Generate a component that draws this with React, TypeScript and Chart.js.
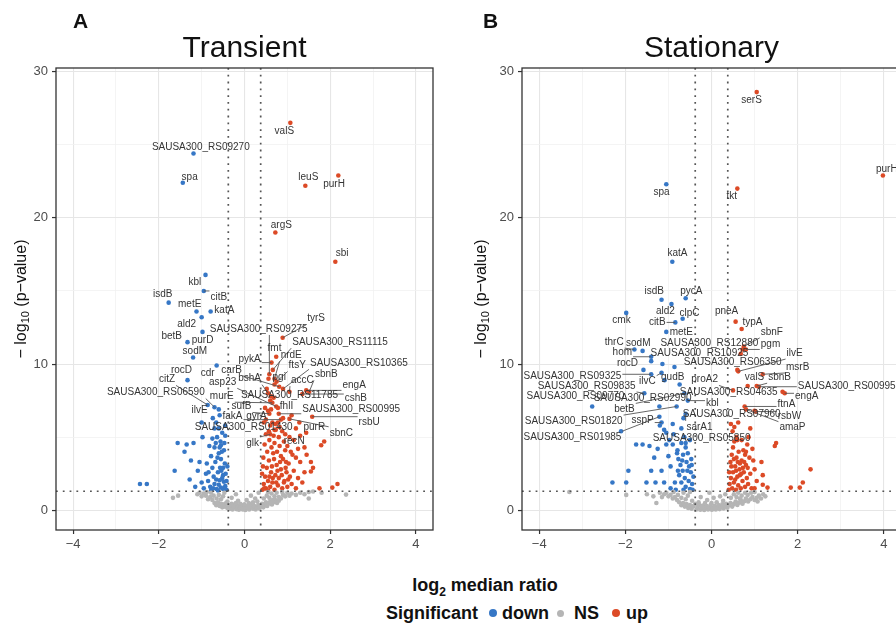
import React, { useEffect, useRef } from 'react';
import { Chart, registerables } from 'chart.js';

Chart.register(...registerables);

type Pt = [number, number];
type Lab = { gene: string; x: number; y: number; lx: number; ly: number };

const FONT = '"Liberation Sans", Arial, Helvetica, sans-serif';
const COLORS = { down: '#3677c6', ns: '#b5b5b5', up: '#dc4a26' };

const xLabeledTicks = [-4, -2, 0, 2, 4];
const yLabeledTicks = [0, 10, 20, 30];
const xRange: Pt = [-4.4, 4.4];
const yRange: Pt = [-1.35, 30.25];
const foldThreshold = 0.378;
const pThreshold = 1.301;

const legendItems = [
  { key: 'down', label: 'down' },
  { key: 'ns', label: 'NS' },
  { key: 'up', label: 'up' },
];

// ---------- Transient ----------
const transientDown: Pt[] = [
  [-0.42, 1.4], [-0.45, 1.65], [-0.5, 1.45], [-0.48, 1.95], [-0.55, 1.55], [-0.6, 1.75], [-0.52, 2.2],
  [-0.44, 2.5], [-0.58, 2.05], [-0.65, 1.45], [-0.7, 1.8], [-0.62, 2.6], [-0.5, 2.9], [-0.46, 3.2],
  [-0.72, 2.3], [-0.8, 1.6], [-0.85, 2.0], [-0.75, 2.9], [-0.55, 3.5], [-0.68, 3.3], [-0.6, 3.9],
  [-0.48, 4.1], [-0.78, 3.7], [-0.9, 2.5], [-0.95, 1.5], [-1.0, 1.9], [-0.7, 4.3], [-0.56, 4.7],
  [-0.64, 5.0], [-0.52, 5.3], [-0.75, 4.9], [-0.82, 4.4], [-0.45, 5.8], [-0.6, 5.6], [-0.7, 5.6],
  [-0.66, 6.0], [-0.58, 6.5], [-1.0, 6.0], [-0.98, 5.0], [-1.19, 4.6], [-1.56, 4.6], [-1.4, 4.0],
  [-1.35, 4.5], [-1.63, 2.7], [-1.09, 2.7], [-1.28, 2.1], [-1.15, 1.6], [-2.44, 1.8], [-2.28, 1.8],
  [-0.88, 3.2], [-0.62, 1.35], [-0.42, 2.0], [-0.4, 3.0], [-0.66, 2.1], [-0.54, 2.7], [-0.47, 4.6],
  [-0.78, 1.35], [-1.25, 3.4], [-0.58, 4.3], [-0.63, 3.6], [-0.53, 4.0], [-0.67, 4.6], [-0.5, 2.4],
  [-0.57, 2.9], [-0.73, 1.5], [-0.84, 2.6], [-1.05, 3.3], [-0.45, 5.1], [-0.6, 6.9], [-0.55, 4.45],
];

const transientNS: Pt[] = [
  [-0.7, 0.5], [-0.66, 0.35], [-0.62, 0.55], [-0.58, 0.3], [-0.55, 0.45], [-0.52, 0.2], [-0.5, 0.4],
  [-0.46, 0.25], [-0.43, 0.5], [-0.4, 0.15], [-0.37, 0.35], [-0.34, 0.1], [-0.31, 0.3], [-0.28, 0.05],
  [-0.25, 0.22], [-0.22, 0.4], [-0.19, 0.08], [-0.16, 0.28], [-0.13, 0.03], [-0.1, 0.18], [-0.07, 0.35],
  [-0.04, 0.06], [-0.01, 0.2], [0.02, 0.02], [0.05, 0.15], [0.08, 0.3], [0.11, 0.05], [0.14, 0.22],
  [0.17, 0.4], [0.2, 0.1], [0.23, 0.28], [0.26, 0.05], [0.29, 0.18], [0.32, 0.35], [0.35, 0.12],
  [0.38, 0.28], [0.41, 0.45], [0.44, 0.2], [0.47, 0.35], [0.5, 0.55], [0.53, 0.3], [0.56, 0.45],
  [0.6, 0.6], [0.64, 0.4], [0.68, 0.55], [0.72, 0.7], [0.76, 0.5], [0.8, 0.65],
  [-0.3, 0.45], [-0.2, 0.5], [-0.1, 0.45], [0, 0.4], [0.1, 0.5], [0.2, 0.55], [0.3, 0.6], [-0.4, 0.6],
  [-0.15, 0.65], [0.05, 0.7], [0.25, 0.8], [-0.3, 0.85], [0.15, 1.0], [-0.2, 1.1], [0.33, 1.2],
  [-0.75, 0.7], [-0.8, 0.9], [-0.85, 0.75], [-0.9, 1.0], [-0.95, 1.15], [-1.0, 0.95], [-1.05, 1.2],
  [-1.1, 1.1], [-0.72, 1.0], [-0.78, 1.2], [-0.65, 0.8], [-0.6, 1.05], [-0.55, 0.75], [-0.5, 0.95],
  [-0.47, 1.2], [-0.88, 1.25], [0.45, 0.8], [0.52, 1.0], [0.58, 0.85], [0.63, 1.15], [0.7, 0.95],
  [0.75, 1.2], [0.8, 0.9], [0.85, 0.8], [0.9, 1.05], [0.95, 0.95], [1.0, 1.2], [1.05, 1.0], [1.1, 1.15],
  [1.2, 1.05], [1.3, 1.2], [1.4, 1.1], [1.5, 1.25], [0.88, 1.25], [0.66, 0.7], [0.55, 1.25],
  [-1.67, 0.85], [-1.55, 1.0], [2.37, 1.07], [1.8, 1.2], [1.6, 1.28], [1.5, 0.8],
];

const transientUp: Pt[] = [
  [0.42, 1.4], [0.45, 1.8], [0.48, 2.3], [0.5, 1.5], [0.52, 2.9], [0.55, 2.0], [0.57, 3.4], [0.6, 1.6],
  [0.62, 2.6], [0.65, 1.9], [0.67, 3.9], [0.7, 1.4], [0.72, 2.4], [0.75, 3.1], [0.78, 1.7], [0.8, 2.2],
  [0.82, 4.4], [0.85, 2.8], [0.88, 1.5], [0.9, 3.5], [0.93, 2.0], [0.95, 4.1], [0.98, 2.6], [1.0, 1.6],
  [1.03, 3.2], [1.06, 2.3], [1.1, 1.8], [1.12, 3.8], [1.15, 2.7], [1.2, 1.5], [1.25, 2.2], [1.3, 3.3],
  [1.35, 1.9], [1.4, 2.6], [1.55, 3.3], [1.55, 2.65], [1.75, 1.5], [1.86, 4.7], [1.79, 4.45],
  [2.05, 1.55], [2.17, 1.8], [0.44, 3.6], [0.47, 4.5], [0.5, 5.2], [0.53, 4.0], [0.58, 4.8],
  [0.6, 5.8], [0.63, 4.3], [0.68, 5.1], [0.7, 4.6], [0.73, 5.5], [0.76, 4.0], [0.8, 5.0], [0.85, 3.7],
  [0.88, 5.4], [0.92, 4.7], [0.97, 3.3], [1.0, 4.4], [1.05, 5.0], [1.08, 4.0], [1.15, 4.8], [1.2, 3.6],
  [1.25, 4.2], [1.3, 5.1], [1.4, 4.3], [1.45, 3.8], [1.6, 2.9], [0.41, 2.5], [0.43, 3.0], [0.46, 1.5],
  [0.55, 1.35], [0.58, 2.3], [0.64, 3.0], [0.66, 2.2], [0.69, 3.5], [0.74, 1.9], [0.77, 2.7],
  [0.83, 3.3], [0.87, 2.4], [0.92, 1.9], [0.96, 2.9], [1.02, 2.1], [0.5, 6.2], [0.55, 6.8],
  [0.6, 7.5], [0.45, 6.0], [0.65, 6.0], [0.62, 7.8], [0.52, 8.3], [0.7, 5.5], [0.9, 6.3], [1.1, 6.5],
  [1.2, 5.6], [0.78, 6.0], [0.48, 7.0], [0.56, 9.0], [1.44, 5.3], [0.82, 5.7], [0.57, 5.4],
];

const transientLabels: Lab[] = [
  { gene: 'SAUSA300_RS09270', x: -1.19, y: 24.4, lx: -1.02, ly: 24.85 },
  { gene: 'spa', x: -1.44, y: 22.4, lx: -1.28, ly: 22.8 },
  { gene: 'valS', x: 1.07, y: 26.5, lx: 0.93, ly: 25.9 },
  { gene: 'leuS', x: 1.42, y: 22.2, lx: 1.49, ly: 22.8 },
  { gene: 'purH', x: 2.19, y: 22.9, lx: 2.09, ly: 22.3 },
  { gene: 'argS', x: 0.72, y: 19.0, lx: 0.86, ly: 19.5 },
  { gene: 'sbi', x: 2.12, y: 17.0, lx: 2.28, ly: 17.6 },
  { gene: 'kbl', x: -0.91, y: 16.1, lx: -1.16, ly: 15.6 },
  { gene: 'isdB', x: -1.77, y: 14.2, lx: -1.91, ly: 14.8 },
  { gene: 'citB', x: -0.95, y: 15.0, lx: -0.6, ly: 14.6 },
  { gene: 'metE', x: -1.12, y: 13.6, lx: -1.28, ly: 14.1 },
  { gene: 'katA', x: -0.79, y: 13.6, lx: -0.47, ly: 13.7 },
  { gene: 'ald2', x: -1.0, y: 13.2, lx: -1.35, ly: 12.7 },
  { gene: 'betB', x: -1.33, y: 11.5, lx: -1.7, ly: 11.9 },
  { gene: 'purD', x: -0.98, y: 12.2, lx: -0.98, ly: 11.65 },
  { gene: 'sodM', x: -1.2, y: 10.45, lx: -1.16, ly: 10.9 },
  { gene: 'cdr', x: -0.65, y: 9.9, lx: -0.86, ly: 9.4 },
  { gene: 'rocD', x: -1.33, y: 8.9, lx: -1.47, ly: 9.55 },
  { gene: 'citZ', x: -0.86, y: 7.2, lx: -1.81, ly: 8.95 },
  { gene: 'SAUSA300_RS06590', x: -0.7, y: 7.05, lx: -2.07, ly: 8.05 },
  { gene: 'ilvE', x: -0.74, y: 6.3, lx: -1.05, ly: 6.85 },
  { gene: 'carB', x: 0.81, y: 8.45, lx: -0.3, ly: 9.6 },
  { gene: 'asp23', x: 0.74, y: 7.1, lx: -0.51, ly: 8.75 },
  { gene: 'murE', x: 0.65, y: 7.35, lx: -0.53, ly: 7.8 },
  { gene: 'sufB', x: 0.58, y: 6.6, lx: -0.07, ly: 7.1 },
  { gene: 'fakA', x: 0.85, y: 6.2, lx: -0.28, ly: 6.4 },
  { gene: 'SAUSA300_RS01430', x: 0.72, y: 5.9, lx: -0.02, ly: 5.65 },
  { gene: 'glk', x: 0.6, y: 5.2, lx: 0.19, ly: 4.6 },
  { gene: 'gyrA', x: 0.62, y: 6.9, lx: 0.28, ly: 6.4 },
  { gene: 'pykA', x: 0.63, y: 10.1, lx: 0.12, ly: 10.3 },
  { gene: 'fmt', x: 0.74, y: 10.5, lx: 0.7, ly: 11.1 },
  { gene: 'SAUSA300_RS09275', x: 0.58, y: 9.3, lx: 0.33, ly: 12.4 },
  { gene: 'tyrS', x: 0.89, y: 11.8, lx: 1.67, ly: 13.1 },
  { gene: 'SAUSA300_RS11115', x: 0.66, y: 9.6, lx: 2.23, ly: 11.5 },
  { gene: 'nrdE', x: 0.7, y: 9.0, lx: 1.09, ly: 10.6 },
  { gene: 'ftsY', x: 0.75, y: 8.8, lx: 1.23, ly: 9.9 },
  { gene: 'SAUSA300_RS10365', x: 0.9, y: 8.3, lx: 2.67, ly: 10.05 },
  { gene: 'sbnB', x: 1.51, y: 8.1, lx: 1.91, ly: 9.3 },
  { gene: 'bshA', x: 0.55, y: 8.0, lx: 0.12, ly: 9.0 },
  { gene: 'pgi', x: 0.7, y: 8.6, lx: 0.81, ly: 9.1 },
  { gene: 'accC', x: 1.05, y: 8.1, lx: 1.35, ly: 8.9 },
  { gene: 'engA', x: 1.44, y: 8.2, lx: 2.56, ly: 8.55 },
  { gene: 'SAUSA300_RS11785', x: 0.68, y: 7.7, lx: 1.05, ly: 7.85 },
  { gene: 'cshB', x: 1.35, y: 7.95, lx: 2.6, ly: 7.65 },
  { gene: 'fhlI', x: 0.78, y: 7.0, lx: 0.98, ly: 7.1 },
  { gene: 'SAUSA300_RS00995', x: 0.8, y: 6.6, lx: 2.49, ly: 6.9 },
  { gene: 'rsbU', x: 1.58, y: 6.4, lx: 2.91, ly: 6.0 },
  { gene: 'purR', x: 1.28, y: 6.0, lx: 1.63, ly: 5.7 },
  { gene: 'sbnC', x: 1.05, y: 6.25, lx: 2.26, ly: 5.3 },
  { gene: 'recN', x: 0.95, y: 5.2, lx: 1.16, ly: 4.7 },
];

// ---------- Stationary ----------
const stationaryDown: Pt[] = [
  [-2.1, 5.4], [-2.3, 1.9], [-1.98, 1.9], [-1.93, 2.7], [-1.75, 4.5], [-1.6, 4.5], [-1.51, 1.9],
  [-1.44, 4.4], [-1.33, 3.6], [-1.16, 2.7], [-1.05, 4.5], [-1.0, 3.7], [-0.9, 4.5], [-0.78, 2.7],
  [-0.77, 3.5], [-0.67, 2.7], [-0.56, 2.7], [-1.3, 1.9], [-1.1, 1.9], [-0.95, 1.5], [-0.85, 1.9],
  [-0.7, 1.9], [-0.6, 1.6], [-0.5, 1.45], [-0.45, 1.8], [-0.42, 2.3], [-0.48, 2.6], [-0.52, 3.0],
  [-0.58, 3.3], [-0.62, 2.2], [-0.66, 3.8], [-0.72, 3.1], [-0.75, 2.4], [-0.8, 3.9], [-0.55, 3.9],
  [-0.47, 3.5], [-0.6, 4.3], [-0.7, 4.6], [-0.5, 4.8], [-0.88, 5.2], [-1.4, 2.7], [-0.83, 1.4],
  [-0.65, 1.4], [-0.44, 1.4], [-1.4, 10.2], [-1.14, 10.0], [-1.09, 8.9], [-1.05, 5.3], [-0.79, 4.1],
  [-0.86, 9.8], [-1.2, 5.8], [-1.1, 5.5], [-0.98, 4.8], [-0.9, 5.9], [-0.7, 5.6], [-0.65, 6.3],
  [-0.6, 4.6], [-1.25, 4.2], [-0.95, 3.0], [-0.53, 2.0], [-0.46, 3.1], [-0.68, 3.4],
];

const stationaryNS: Pt[] = [
  [-0.75, 0.55], [-0.7, 0.35], [-0.66, 0.5], [-0.62, 0.25], [-0.58, 0.42], [-0.54, 0.15], [-0.5, 0.35],
  [-0.46, 0.1], [-0.42, 0.28], [-0.38, 0.45], [-0.35, 0.06], [-0.32, 0.22], [-0.29, 0.38], [-0.26, 0.04],
  [-0.23, 0.18], [-0.2, 0.32], [-0.17, 0.02], [-0.14, 0.14], [-0.11, 0.28], [-0.08, 0.05], [-0.05, 0.2],
  [-0.02, 0.36], [0.01, 0.03], [0.04, 0.16], [0.07, 0.3], [0.1, 0.06], [0.13, 0.2], [0.16, 0.36],
  [0.19, 0.08], [0.22, 0.24], [0.25, 0.4], [0.28, 0.12], [0.31, 0.28], [0.34, 0.45], [0.37, 0.18],
  [0.4, 0.34], [0.44, 0.5], [0.48, 0.25], [0.52, 0.42], [0.56, 0.6], [0.6, 0.36], [0.64, 0.52],
  [0.68, 0.7], [0.72, 0.45], [0.76, 0.62], [0.8, 0.8], [0.85, 0.6], [0.9, 0.75], [0.95, 0.9],
  [1.0, 0.7], [1.05, 0.85], [1.1, 1.0], [1.15, 0.8], [1.2, 1.1],
  [-0.3, 0.55], [-0.15, 0.5], [0, 0.5], [0.12, 0.55], [0.27, 0.65], [-0.45, 0.65], [-0.1, 0.7],
  [0.05, 0.85], [0.2, 0.95], [-0.25, 0.9], [0.32, 1.1], [-0.05, 1.2],
  [-0.8, 0.7], [-0.85, 0.9], [-0.9, 0.8], [-0.95, 1.05], [-1.0, 0.95], [-1.05, 1.2], [-1.1, 1.1],
  [-1.15, 0.9], [-1.2, 1.2], [-0.78, 1.05], [-0.7, 0.85], [-0.65, 1.2], [-0.6, 0.75], [-0.55, 1.0],
  [-0.5, 1.25], [-0.88, 1.25], [0.45, 0.85], [0.52, 1.1], [0.58, 0.9], [0.62, 1.2], [0.7, 1.0],
  [0.78, 1.2], [0.84, 1.05], [0.92, 1.2], [1.0, 1.25], [0.66, 0.8],
  [-3.3, 1.25], [-1.98, 1.05], [-1.28, 0.5], [-1.5, 1.1], [-1.35, 0.95], [1.07, 0.6], [1.25, 0.95],
];

const stationaryUp: Pt[] = [
  [0.4, 1.4], [0.42, 1.8], [0.45, 2.2], [0.48, 1.5], [0.5, 2.6], [0.52, 1.9], [0.55, 3.0], [0.57, 1.4],
  [0.6, 2.3], [0.62, 1.7], [0.65, 2.8], [0.68, 1.5], [0.7, 3.4], [0.72, 2.0], [0.75, 2.6], [0.78, 1.6],
  [0.8, 3.1], [0.82, 2.2], [0.85, 1.8], [0.88, 3.6], [0.9, 2.5], [0.93, 1.5], [0.95, 4.2], [0.44, 3.3],
  [0.47, 3.8], [0.5, 4.3], [0.53, 4.7], [0.58, 3.6], [0.63, 4.0], [0.66, 3.2], [0.7, 4.8], [0.74, 4.1],
  [0.78, 3.8], [0.83, 4.5], [0.86, 5.0], [0.9, 5.6], [0.58, 5.0], [0.49, 5.4], [0.45, 5.9], [0.6, 4.8],
  [0.8, 4.0], [0.53, 5.7], [0.62, 6.0], [0.55, 2.1], [0.66, 2.4], [0.73, 2.9], [0.41, 2.6], [0.46, 3.0],
  [0.52, 3.5], [0.57, 2.7], [0.61, 3.3], [0.69, 2.5], [0.76, 3.3], [0.84, 2.9], [1.47, 4.4], [1.5, 4.6],
  [2.3, 2.8], [2.12, 1.9], [2.05, 1.55], [1.84, 1.55], [1.16, 3.3], [1.19, 2.4], [1.19, 1.75],
  [1.3, 1.55], [1.05, 2.0], [1.0, 2.8], [1.0, 1.5], [0.97, 3.4],
];

const stationaryLabels: Lab[] = [
  { gene: 'serS', x: 1.05, y: 28.6, lx: 0.93, ly: 28.05 },
  { gene: 'purH', x: 3.98, y: 22.9, lx: 4.07, ly: 23.35 },
  { gene: 'spa', x: -1.05, y: 22.3, lx: -1.16, ly: 21.75 },
  { gene: 'tkt', x: 0.6, y: 22.0, lx: 0.47, ly: 21.5 },
  { gene: 'katA', x: -0.91, y: 17.0, lx: -0.79, ly: 17.55 },
  { gene: 'isdB', x: -1.16, y: 14.4, lx: -1.33, ly: 15.0 },
  { gene: 'pycA', x: -0.6, y: 14.5, lx: -0.47, ly: 14.95 },
  { gene: 'ald2', x: -0.93, y: 14.1, lx: -1.07, ly: 13.6 },
  { gene: 'clpC', x: -0.67, y: 13.1, lx: -0.51, ly: 13.5 },
  { gene: 'cmk', x: -1.98, y: 13.5, lx: -2.09, ly: 13.0 },
  { gene: 'citB', x: -0.84, y: 12.85, lx: -1.26, ly: 12.85 },
  { gene: 'metE', x: -1.05, y: 12.2, lx: -0.7, ly: 12.2 },
  { gene: 'thrC', x: -1.79, y: 11.0, lx: -2.26, ly: 11.5 },
  { gene: 'sodM', x: -1.6, y: 10.9, lx: -1.7, ly: 11.45 },
  { gene: 'hom', x: -1.4, y: 10.5, lx: -2.07, ly: 10.8 },
  { gene: 'rocD', x: -1.58, y: 9.6, lx: -1.95, ly: 10.05 },
  { gene: 'SAUSA300_RS09325', x: -1.4, y: 9.3, lx: -3.23, ly: 9.2 },
  { gene: 'SAUSA300_RS09835', x: -1.56, y: 8.0, lx: -2.9, ly: 8.5 },
  { gene: 'ilvC', x: -1.16, y: 9.4, lx: -1.49, ly: 8.8 },
  { gene: 'gudB', x: -0.74, y: 8.6, lx: -0.9, ly: 9.1 },
  { gene: 'SAUSA300_RS09770', x: -2.77, y: 7.1, lx: -3.16, ly: 7.8 },
  { gene: 'SAUSA300_RS02990', x: -1.21, y: 7.1, lx: -1.6, ly: 7.65 },
  { gene: 'betB', x: -0.63, y: 8.0, lx: -2.02, ly: 6.9 },
  { gene: 'SAUSA300_RS01820', x: -0.81, y: 7.1, lx: -3.2, ly: 6.1 },
  { gene: 'sspP', x: -1.16, y: 6.0, lx: -1.6, ly: 6.15 },
  { gene: 'SAUSA300_RS01985', x: -1.21, y: 6.4, lx: -3.23, ly: 5.0 },
  { gene: 'kbl', x: -0.55, y: 7.5, lx: 0.02, ly: 7.3 },
  { gene: 'sarA1', x: -0.6, y: 6.6, lx: -0.28, ly: 5.7 },
  { gene: 'SAUSA300_RS05850', x: -0.63, y: 5.0, lx: -0.23, ly: 4.9 },
  { gene: 'SAUSA300_RS12880', x: 0.72, y: 11.0, lx: -0.05, ly: 11.45 },
  { gene: 'SAUSA300_RS10925', x: 0.68, y: 10.7, lx: -0.28, ly: 10.75 },
  { gene: 'SAUSA300_RS06350', x: 0.6, y: 9.6, lx: 0.49, ly: 10.1 },
  { gene: 'proA2', x: 0.5, y: 8.2, lx: -0.16, ly: 8.95 },
  { gene: 'pneA', x: 0.56, y: 12.9, lx: 0.35, ly: 13.6 },
  { gene: 'typA', x: 0.7, y: 12.4, lx: 0.95, ly: 12.85 },
  { gene: 'sbnF', x: 0.75, y: 11.2, lx: 1.4, ly: 12.2 },
  { gene: 'pgm', x: 0.8, y: 11.0, lx: 1.37, ly: 11.35 },
  { gene: 'ilvE', x: 0.62, y: 9.5, lx: 1.93, ly: 10.75 },
  { gene: 'msrB', x: 1.19, y: 9.3, lx: 2.0, ly: 9.8 },
  { gene: 'valS', x: 0.84, y: 8.5, lx: 1.0, ly: 9.1 },
  { gene: 'sbnB', x: 1.05, y: 8.5, lx: 1.58, ly: 9.1 },
  { gene: 'SAUSA300_RS00995', x: 1.1, y: 8.45, lx: 3.14, ly: 8.45 },
  { gene: 'SAUSA300_RS04635', x: 1.65, y: 8.1, lx: 0.4, ly: 8.05 },
  { gene: 'engA', x: 1.7, y: 8.0, lx: 2.21, ly: 7.8 },
  { gene: 'ftnA', x: 0.77, y: 7.1, lx: 1.74, ly: 7.25 },
  { gene: 'SAUSA300_RS07960', x: 1.0, y: 6.8, lx: 0.47, ly: 6.55 },
  { gene: 'rsbW', x: 1.02, y: 6.75, lx: 1.81, ly: 6.4 },
  { gene: 'amaP', x: 0.8, y: 6.9, lx: 1.88, ly: 5.65 },
];

const fmtTick = (v: number) => (v < 0 ? '\u2212' + Math.abs(v) : String(v));

function makeDecor(title: string, letter: string, letterX: number, labels: Lab[]) {
  return {
    id: 'decor',
    afterDatasetsDraw(chart: any) {
      const { ctx, chartArea: a } = chart;
      const xs = chart.scales.x;
      const ys = chart.scales.y;
      ctx.save();
      // threshold lines
      ctx.strokeStyle = '#555555';
      ctx.lineWidth = 1.7;
      ctx.setLineDash([1.8, 5]);
      for (const v of [-foldThreshold, foldThreshold]) {
        const px = xs.getPixelForValue(v);
        ctx.beginPath();
        ctx.moveTo(px, a.top);
        ctx.lineTo(px, a.bottom);
        ctx.stroke();
      }
      const hy = ys.getPixelForValue(pThreshold);
      ctx.beginPath();
      ctx.moveTo(a.left, hy);
      ctx.lineTo(a.right, hy);
      ctx.stroke();
      ctx.setLineDash([]);

      // repel-style labels
      ctx.font = `10px ${FONT}`;
      const items = labels.map((l) => {
        const px = xs.getPixelForValue(l.x);
        const py = ys.getPixelForValue(l.y);
        const lx = xs.getPixelForValue(l.lx);
        const ly = ys.getPixelForValue(l.ly);
        const w = ctx.measureText(l.gene).width;
        return { l, px, py, lx, ly, w };
      });
      ctx.strokeStyle = '#555555';
      ctx.lineWidth = 0.9;
      for (const it of items) {
        const bx = Math.min(Math.max(it.px, it.lx - it.w / 2 - 1), it.lx + it.w / 2 + 1);
        const by = Math.min(Math.max(it.py, it.ly - 6), it.ly + 6);
        const d = Math.hypot(it.px - bx, it.py - by);
        if (d > 5) {
          ctx.beginPath();
          ctx.moveTo(it.px, it.py);
          ctx.lineTo(bx, by);
          ctx.stroke();
        }
      }
      ctx.fillStyle = '#353535';
      ctx.textAlign = 'center';
      ctx.textBaseline = 'middle';
      for (const it of items) ctx.fillText(it.l.gene, it.lx, it.ly);

      // panel border
      ctx.strokeStyle = '#333333';
      ctx.lineWidth = 1.3;
      ctx.strokeRect(a.left, a.top, a.right - a.left, a.bottom - a.top);
      ctx.restore();
    },
    afterDraw(chart: any) {
      const { ctx, chartArea: a } = chart;
      ctx.save();
      ctx.fillStyle = '#111111';
      ctx.textAlign = 'center';
      ctx.textBaseline = 'alphabetic';
      ctx.font = `30px ${FONT}`;
      ctx.fillText(title, (a.left + a.right) / 2, 57);
      ctx.textAlign = 'left';
      ctx.font = `bold 21px ${FONT}`;
      ctx.fillText(letter, letterX, 28);

      // y axis title with subscript
      const parts = [
        { t: '\u2212 log', f: `16px ${FONT}`, dy: 0 },
        { t: '10', f: `11px ${FONT}`, dy: 4 },
        { t: ' (p\u2212value)', f: `16px ${FONT}`, dy: 0 },
      ];
      let total = 0;
      const widths = parts.map((p) => {
        ctx.font = p.f;
        const w = ctx.measureText(p.t).width;
        total += w;
        return w;
      });
      ctx.translate(22, (a.top + a.bottom) / 2);
      ctx.rotate(-Math.PI / 2);
      ctx.textBaseline = 'middle';
      let cx = -total / 2;
      parts.forEach((p, i) => {
        ctx.font = p.f;
        ctx.fillText(p.t, cx, p.dy);
        cx += widths[i];
      });
      ctx.restore();
    },
  };
}

type PanelProps = {
  left: number;
  width: number;
  yAxisWidth: number;
  padRight: number;
  title: string;
  letter: string;
  letterX: number;
  down: Pt[];
  ns: Pt[];
  up: Pt[];
  labels: Lab[];
};

function Panel(p: PanelProps) {
  const ref = useRef<HTMLCanvasElement>(null);
  useEffect(() => {
    const canvas = ref.current;
    if (!canvas) return;
    const toXY = (arr: Pt[]) => arr.map(([x, y]) => ({ x, y }));
    const labDown = p.labels.filter((l) => l.x < 0).map((l) => ({ x: l.x, y: l.y }));
    const labUp = p.labels.filter((l) => l.x > 0).map((l) => ({ x: l.x, y: l.y }));
    const pt = { pointRadius: 2.3, pointHoverRadius: 2.3, pointBorderWidth: 0, borderWidth: 0 };
    const isMajorX = (c: any) => c.tick && xLabeledTicks.includes(c.tick.value);
    const isMajorY = (c: any) => c.tick && yLabeledTicks.includes(c.tick.value);
    const chart = new Chart(canvas, {
      type: 'scatter',
      data: {
        datasets: [
          { label: 'NS', data: toXY(p.ns), backgroundColor: COLORS.ns, ...pt },
          { label: 'down', data: [...toXY(p.down), ...labDown], backgroundColor: COLORS.down, ...pt },
          { label: 'up', data: [...toXY(p.up), ...labUp], backgroundColor: COLORS.up, ...pt },
        ],
      },
      options: {
        responsive: false,
        animation: false,
        events: [],
        layout: { padding: { top: 68, left: 0, right: p.padRight, bottom: 0 } },
        plugins: { legend: { display: false }, tooltip: { enabled: false } },
        scales: {
          x: {
            type: 'linear',
            min: xRange[0],
            max: xRange[1],
            afterFit: (s: any) => {
              s.height = 30;
            },
            border: { display: false },
            grid: {
              color: (c: any) => (isMajorX(c) ? '#e6e6e6' : '#f1f1f1'),
              lineWidth: (c: any) => (isMajorX(c) ? 1.1 : 0.8),
              tickColor: (c: any) => (isMajorX(c) ? '#333333' : 'rgba(0,0,0,0)'),
              tickLength: 4,
              tickWidth: 1.2,
              drawTicks: true,
            },
            ticks: {
              stepSize: 1,
              includeBounds: false,
              autoSkip: false,
              maxRotation: 0,
              color: '#4d4d4d',
              padding: 3,
              font: { size: 13, family: FONT },
              callback: (v: any) => (xLabeledTicks.includes(Number(v)) ? fmtTick(Number(v)) : ''),
            },
          },
          y: {
            type: 'linear',
            min: yRange[0],
            max: yRange[1],
            afterFit: (s: any) => {
              s.width = p.yAxisWidth;
            },
            border: { display: false },
            grid: {
              color: (c: any) => (isMajorY(c) ? '#e6e6e6' : '#f1f1f1'),
              lineWidth: (c: any) => (isMajorY(c) ? 1.1 : 0.8),
              tickColor: (c: any) => (isMajorY(c) ? '#333333' : 'rgba(0,0,0,0)'),
              tickLength: 4,
              tickWidth: 1.2,
              drawTicks: true,
            },
            ticks: {
              stepSize: 5,
              includeBounds: false,
              autoSkip: false,
              color: '#4d4d4d',
              padding: 4,
              font: { size: 13, family: FONT },
              callback: (v: any) => (yLabeledTicks.includes(Number(v)) ? fmtTick(Number(v)) : ''),
            },
          },
        },
      } as any,
      plugins: [makeDecor(p.title, p.letter, p.letterX, p.labels)],
    });
    return () => chart.destroy();
  }, []);
  return (
    <canvas
      ref={ref}
      width={p.width}
      height={560}
      style={{ position: 'absolute', left: p.left, top: 0, width: p.width, height: 560 }}
    />
  );
}

export default function App() {
  const legendOffsets: Record<string, { gapBefore: number; gapAfter: number; size: number }> = {
    down: { gapBefore: 11, gapAfter: 5, size: 8 },
    ns: { gapBefore: 8, gapAfter: 10, size: 7 },
    up: { gapBefore: 13, gapAfter: 6, size: 8 },
  };
  return (
    <div
      style={{
        position: 'fixed',
        left: 0,
        top: 0,
        width: 896,
        height: 630,
        overflow: 'hidden',
        background: '#ffffff',
        fontFamily: FONT,
      }}
    >
      <Panel
        left={0}
        width={460}
        yAxisWidth={56}
        padRight={27}
        title="Transient"
        letter="A"
        letterX={73}
        down={transientDown}
        ns={transientNS}
        up={transientUp}
        labels={transientLabels}
      />
      <Panel
        left={460}
        width={460}
        yAxisWidth={62}
        padRight={19}
        title="Stationary"
        letter="B"
        letterX={23}
        down={stationaryDown}
        ns={stationaryNS}
        up={stationaryUp}
        labels={stationaryLabels}
      />
      <div
        style={{
          position: 'absolute',
          left: 485,
          top: 585,
          transform: 'translate(-50%, -50%)',
          fontWeight: 'bold',
          fontSize: 18,
          whiteSpace: 'nowrap',
          color: '#111',
          lineHeight: '22px',
        }}
      >
        log<sub style={{ fontSize: 12, lineHeight: 0 }}>2</sub> median ratio
      </div>
      <div
        style={{
          position: 'absolute',
          left: 386,
          top: 602,
          height: 22,
          display: 'flex',
          alignItems: 'center',
          fontWeight: 'bold',
          fontSize: 18,
          color: '#111',
          whiteSpace: 'nowrap',
        }}
      >
        <span>Significant</span>
        {legendItems.map((it) => {
          const o = legendOffsets[it.key];
          return (
            <React.Fragment key={it.key}>
              <span
                style={{
                  display: 'inline-block',
                  width: o.size,
                  height: o.size,
                  borderRadius: '50%',
                  background: (COLORS as any)[it.key],
                  marginLeft: o.gapBefore,
                  marginRight: o.gapAfter,
                }}
              />
              <span>{it.label}</span>
            </React.Fragment>
          );
        })}
      </div>
    </div>
  );
}
